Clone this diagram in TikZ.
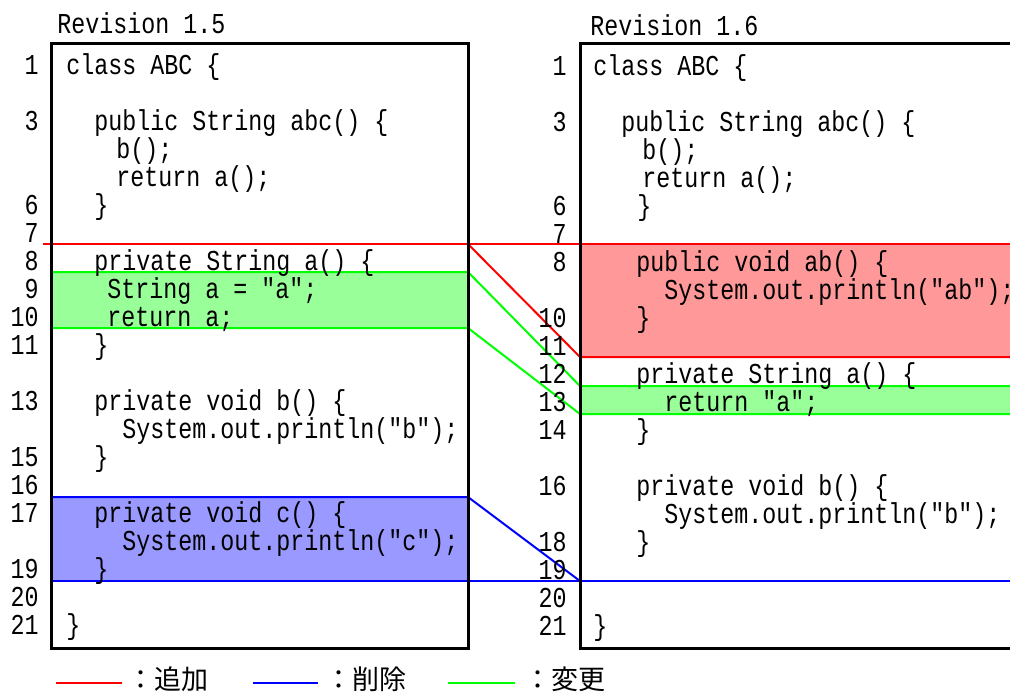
\documentclass[tikz,border=0pt]{standalone}
\usepackage{fontspec}
\setmonofont{Liberation Mono}[FakeStretch=0.81]
\newfontfamily\jpfont{Noto Sans CJK JP}
\newcommand{\codefont}{\ttfamily\fontsize{14.4}{16}\selectfont}

\definecolor{addred}{RGB}{255,0,0}
\definecolor{delblue}{RGB}{0,0,255}
\definecolor{modgreen}{RGB}{0,255,0}
\definecolor{addfill}{RGB}{255,153,153}
\definecolor{delfill}{RGB}{153,153,255}
\definecolor{modfill}{RGB}{153,255,153}

\tikzset{
  code/.style={anchor=base west,inner sep=0pt,font=\codefont},
  lnum/.style={anchor=base east,inner sep=0pt,font=\codefont},
  legend/.style={anchor=base west,inner sep=0pt,font=\jpfont\fontsize{13.5}{15}\selectfont},
  revbox/.style={line width=1.5pt},
  addline/.style={addred,line width=1pt},
  delline/.style={delblue,line width=1pt},
  modline/.style={modgreen,line width=1pt},
}

\begin{document}
\begin{tikzpicture}[x=0.5pt,y=-0.5pt]
\useasboundingbox (0,0) rectangle (1010,693);
\clip (0,0) rectangle (1010,693);

% changed blocks
\fill[modfill] (51,272) rectangle (468,328);
\fill[delfill] (51,497) rectangle (468,581);
\fill[addfill] (580,244) rectangle (1010,357);
\fill[modfill] (580,386) rectangle (1010,414);

% corners of the blocks on both sides
\coordinate (addL) at (468,244);
\coordinate (addR) at (580,357);
\coordinate (modtopL) at (468,272);
\coordinate (modtopR) at (580,386);
\coordinate (modbotL) at (468,328);
\coordinate (modbotR) at (580,414);
\coordinate (delL) at (468,497);
\coordinate (delR) at (580,581);

\draw[addline] (43,244) -- (1010,244);
\draw[addline] (addL) -- (addR) -- (1010,357);
\draw[modline] (51,272) -- (modtopL) -- (modtopR) -- (1010,386);
\draw[modline] (51,328) -- (modbotL) -- (modbotR) -- (1010,414);
\draw[delline] (51,497) -- (delL) -- (delR);
\draw[delline] (51,581) -- (1010,581);

% the two revisions
\draw[revbox] (51,43) rectangle (468,648);
\draw[revbox] (1030,43) -- (580,43) -- (580,648) -- (1030,648);
\node[code] (revold) at (57,33) {Revision 1.5};
\node[code] (revnew) at (590,35) {Revision 1.6};

% line numbers
\foreach \n in {1,3,6,7,8,9,10,11,13,15,16,17,19,20,21}
  \node[lnum] (lo\n) at (39,{74+28*(\n-1)}) {\n};
\foreach \n in {1,3,6,7,8,10,11,12,13,14,16,18,19,20,21}
  \node[lnum] (ln\n) at (567,{75+28*(\n-1)}) {\n};

% Revision 1.5
\node[code] (o1) at (66,74) {class ABC \{};
\node[code] (o3) at (94,130) {public String abc() \{};
\node[code] (o4) at (116,158) {b();};
\node[code] (o5) at (116,186) {return a();};
\node[code] (o6) at (94,214) {\}};
\node[code] (o8) at (94,270) {private String a() \{};
\node[code] (o9) at (107,298) {String a = "a";};
\node[code] (o10) at (107,326) {return a;};
\node[code] (o11) at (94,354) {\}};
\node[code] (o13) at (94,410) {private void b() \{};
\node[code] (o14) at (122,438) {System.out.println("b");};
\node[code] (o15) at (94,466) {\}};
\node[code] (o17) at (94,522) {private void c() \{};
\node[code] (o18) at (122,550) {System.out.println("c");};
\node[code] (o19) at (94,578) {\}};
\node[code] (o21) at (66,634) {\}};

% Revision 1.6
\node[code] (n1) at (593,75) {class ABC \{};
\node[code] (n3) at (621,131) {public String abc() \{};
\node[code] (n4) at (642,159) {b();};
\node[code] (n5) at (642,187) {return a();};
\node[code] (n6) at (637,215) {\}};
\node[code] (n8) at (636,271) {public void ab() \{};
\node[code] (n9) at (664,299) {System.out.println("ab");};
\node[code] (n10) at (636,327) {\}};
\node[code] (n12) at (636,383) {private String a() \{};
\node[code] (n13) at (664,411) {return "a";};
\node[code] (n14) at (636,439) {\}};
\node[code] (n16) at (636,495) {private void b() \{};
\node[code] (n17) at (664,523) {System.out.println("b");};
\node[code] (n18) at (636,551) {\}};
\node[code] (n21) at (593,635) {\}};

% legend
\draw[addline] (56,683) -- (122,683);
\node[legend] (legadd) at (127,689) {：追加};
\draw[delline] (253,683) -- (318,683);
\node[legend] (legdel) at (325,689) {：削除};
\draw[modline] (448,683) -- (515,683);
\node[legend] (legmod) at (524,689) {：変更};
\end{tikzpicture}
\end{document}
